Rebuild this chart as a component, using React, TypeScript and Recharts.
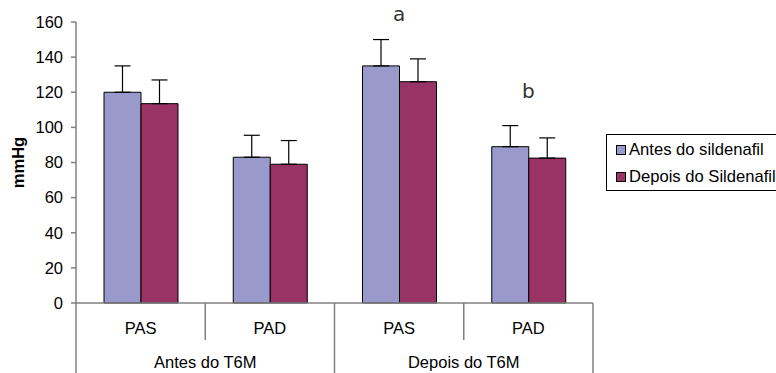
import React from "react";
import {
  ComposedChart,
  Bar,
  XAxis,
  YAxis,
  ErrorBar,
  Legend,
  ReferenceDot,
} from "recharts";

// categories and grouping
const keys = ["antes-pas", "antes-pad", "depois-pas", "depois-pad"];
const categories = ["PAS", "PAD", "PAS", "PAD"];
const groups = ["Antes do T6M", "Antes do T6M", "Depois do T6M", "Depois do T6M"];

// series values (mmHg)
const antes = [120, 83, 135, 89];
const antesErr = [15, 12.5, 15, 12];
const depois = [113.5, 79, 126, 82.5];
const depoisErr = [13.5, 13.5, 13, 11.5];

const yTicks = [0, 20, 40, 60, 80, 100, 120, 140, 160];

// significance marks
const notes = [
  { key: "depois-pas", value: 164.5, text: "a" },
  { key: "depois-pad", value: 121, text: "b" },
];

const seriesNames = ["Antes do sildenafil", "Depois do Sildenafil"];
const colors = ["#9999CC", "#993366"];

const data = keys.map((k, i) => ({
  key: k,
  group: groups[i],
  antes: antes[i],
  antesErr: [0, antesErr[i]],
  depois: depois[i],
  depoisErr: [0, depoisErr[i]],
}));

const FONT = "'Liberation Sans', Arial, sans-serif";
const GREY = "#808080";
const PLOT_W = 776 - 76 - 183;

const CatTick = (props: any) => {
  const { x, y, payload, index } = props;
  const half = payload && payload.offset ? payload.offset : PLOT_W / 8;
  return (
    <g>
      <text x={x} y={y + 31} textAnchor="middle" fontSize={16.5} fontFamily={FONT} fill="#000">
        {categories[index]}
      </text>
      {index % 2 === 1 && (
        <line x1={x - half} x2={x - half} y1={y} y2={y + 37} stroke={GREY} strokeWidth={1.5} />
      )}
    </g>
  );
};

const GroupTick = (props: any) => {
  const { x, y, payload, index } = props;
  const half = payload && payload.offset ? payload.offset : PLOT_W / 4;
  return (
    <g>
      <text x={x} y={y + 28} textAnchor="middle" fontSize={16.5} fontFamily={FONT} fill="#000">
        {payload.value}
      </text>
      <line x1={x - half} x2={x - half} y1={y - 37} y2={y + 33} stroke={GREY} strokeWidth={1.5} />
      {index === 1 && (
        <line x1={x + half} x2={x + half} y1={y - 37} y2={y + 33} stroke={GREY} strokeWidth={1.5} />
      )}
    </g>
  );
};

const renderLegend = () => (
  <div
    style={{
      border: "1px solid #000",
      width: 200,
      height: 54,
      boxSizing: "content-box",
      padding: "1px 0 0 9px",
      fontFamily: FONT,
      fontSize: 16.6,
      color: "#000",
      background: "#fff",
    }}
  >
    {seriesNames.map((n, i) => (
      <div key={n} style={{ display: "flex", alignItems: "center", height: 27.5, whiteSpace: "nowrap" }}>
        <span
          style={{
            display: "inline-block",
            width: 8,
            height: 8,
            background: colors[i],
            border: "1px solid #000",
            marginRight: 3,
          }}
        />
        {n}
      </div>
    ))}
  </div>
);

export default function App() {
  return (
    <div style={{ position: "absolute", left: 0, top: 0, width: 776, height: 373, overflow: "hidden", background: "#fff" }}>
      <ComposedChart
        width={776}
        height={373}
        data={data}
        margin={{ top: 22, right: 183, bottom: 0, left: 0 }}
        barGap={0}
        barSize={37}
      >
        <XAxis
          dataKey="key"
          height={37}
          tickSize={0}
          tickMargin={0}
          tickLine={false}
          axisLine={{ stroke: GREY, strokeWidth: 1.5 }}
          tick={<CatTick />}
          interval={0}
        />
        <XAxis
          xAxisId="g"
          dataKey="group"
          allowDuplicatedCategory={false}
          height={33}
          tickSize={0}
          tickMargin={0}
          tickLine={false}
          axisLine={false}
          tick={<GroupTick />}
          interval={0}
        />
        <YAxis
          width={76}
          domain={[0, 160]}
          ticks={yTicks}
          tickSize={5}
          tickMargin={8}
          axisLine={{ stroke: GREY, strokeWidth: 1.5 }}
          tickLine={{ stroke: GREY, strokeWidth: 1.5 }}
          tick={{ fontSize: 16.5, fontFamily: FONT, fill: "#000" }}
          label={{
            content: (p: any) => {
              const vb = p.viewBox || { x: 0, y: 22, height: 281 };
              const cx = vb.x + 18;
              const cy = vb.y + vb.height / 2;
              return (
                <text
                  x={cx}
                  y={cy}
                  transform={`rotate(-90 ${cx} ${cy})`}
                  textAnchor="middle"
                  dominantBaseline="central"
                  fontSize={16.5}
                  fontWeight="bold"
                  fontFamily={FONT}
                  fill="#000"
                >
                  mmHg
                </text>
              );
            },
          }}
        />
        <Legend
          content={renderLegend}
          layout="horizontal"
          align="center"
          verticalAlign="middle"
          wrapperStyle={{ position: "absolute", left: 606, top: 134, width: 220 }}
        />
        <Bar dataKey="antes" name={seriesNames[0]} fill={colors[0]} stroke="#000" strokeWidth={1} isAnimationActive={false}>
          <ErrorBar dataKey="antesErr" width={8} stroke="#000" strokeWidth={1.2} direction="y" />
        </Bar>
        <Bar dataKey="depois" name={seriesNames[1]} fill={colors[1]} stroke="#000" strokeWidth={1} isAnimationActive={false}>
          <ErrorBar dataKey="depoisErr" width={8} stroke="#000" strokeWidth={1.2} direction="y" />
        </Bar>
        {notes.map((n) => (
          <ReferenceDot
            key={n.key}
            x={n.key}
            y={n.value}
            r={0}
            fill="none"
            stroke="none"
            ifOverflow="visible"
            label={{ value: n.text, position: "center", fontSize: 20, fill: "#333", fontFamily: "'DejaVu Sans', sans-serif" }}
          />
        ))}
      </ComposedChart>
    </div>
  );
}
